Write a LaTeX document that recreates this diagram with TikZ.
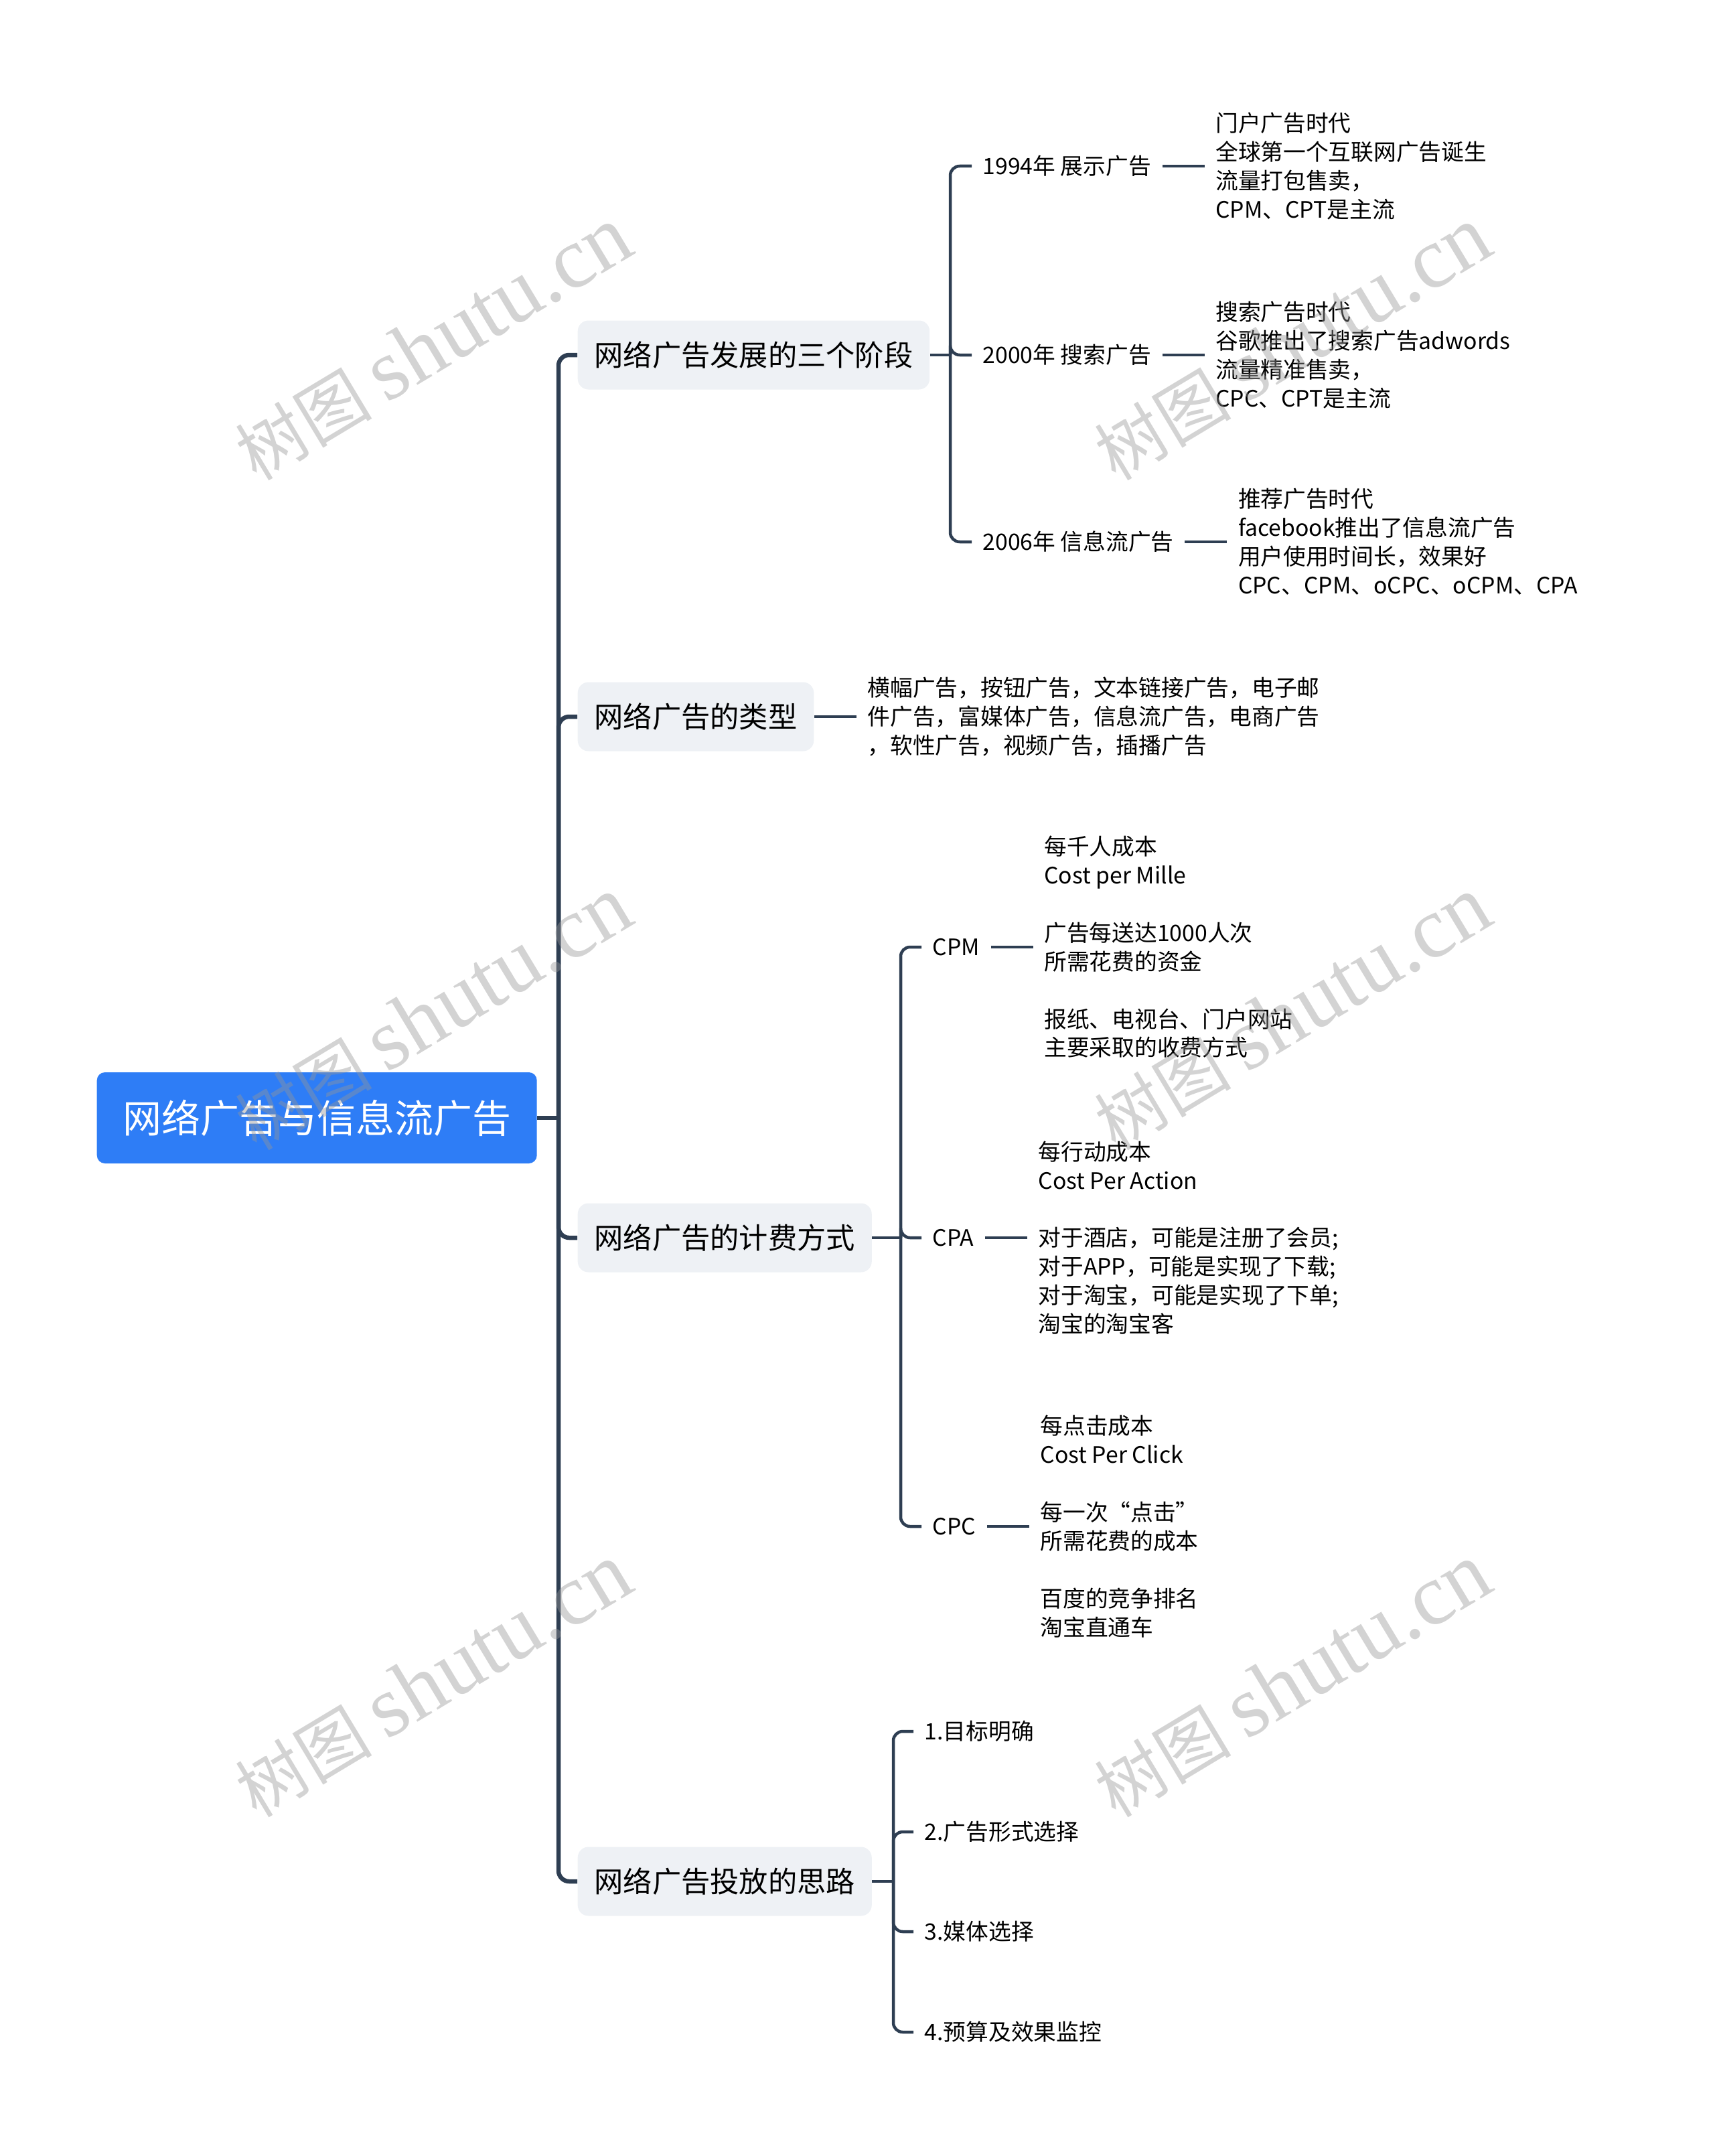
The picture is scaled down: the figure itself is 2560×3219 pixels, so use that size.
\documentclass[tikz,border=0pt]{standalone}
\usepackage{fontspec}
\setmainfont{Noto Sans CJK SC}
\newfontfamily\wmfont{Liberation Serif}
\usetikzlibrary{positioning}
\definecolor{rootblue}{RGB}{46,125,246}
\definecolor{topicgray}{RGB}{238,241,245}
\definecolor{linkcol}{RGB}{46,62,82}
\definecolor{wmgray}{RGB}{150,150,150}
\begin{document}
\begin{tikzpicture}[x=0.1mm,y=-0.1mm,
    rootbox/.style={fill=rootblue,text=white,rounded corners=1.2mm,minimum width=65.7mm,
      minimum height=13.6mm,inner sep=0pt,anchor=west,font=\fontsize{16.5pt}{20pt}\selectfont},
    topic/.style={fill=topicgray,rounded corners=1.6mm,minimum height=10.3mm,inner xsep=2.5mm,
      anchor=west,font=\fontsize{12.3pt}{15pt}\selectfont},
    sub/.style={inner xsep=1.6mm,inner ysep=1mm,anchor=west,font=\fontsize{9.6pt}{12.2pt}\selectfont},
    leaf/.style={inner xsep=1.6mm,align=left,font=\fontsize{9.6pt}{12.2pt}\selectfont},
    trunk/.style={draw=linkcol,line width=0.65mm,rounded corners=1.6mm},
    branch/.style={draw=linkcol,line width=0.45mm,rounded corners=1.4mm},
    wmark/.style={text=wmgray,opacity=0.42,rotate=31,font=\fontsize{29pt}{34pt}\selectfont},
    node distance=6.3mm]
    \useasboundingbox (0,0) rectangle (2560,3219);

    \node[rootbox] (root) at (144,1669) {网络广告与信息流广告};
    \coordinate (rootj) at (834,1669);

    \node[topic] (stage) at (862,530) {网络广告发展的三个阶段};
    \node[topic] (types) at (862,1070) {网络广告的类型};
    \node[topic] (fee) at (862,1848) {网络广告的计费方式};
    \node[topic] (plan) at (862,2809) {网络广告投放的思路};

    \draw[trunk] (root.east) -- (rootj);
    \foreach \t in {stage,types,fee,plan}
        \draw[trunk] (rootj) |- (\t.west);

    \coordinate (stagej) at (1419,530);
    \node[sub] (y1994) at (1451,248) {1994年 展示广告};
    \node[sub] (y2000) at (1451,530) {2000年 搜索广告};
    \node[sub] (y2006) at (1451,809) {2006年 信息流广告};
    \node[leaf,right=of y1994] (l1994) {门户广告时代\\全球第一个互联网广告诞生\\流量打包售卖，\\CPM、CPT是主流};
    \node[leaf,right=of y2000] (l2000) {搜索广告时代\\谷歌推出了搜索广告adwords\\流量精准售卖，\\CPC、CPT是主流};
    \node[leaf,right=of y2006] (l2006) {推荐广告时代\\facebook推出了信息流广告\\用户使用时间长，效果好\\CPC、CPM、oCPC、oCPM、CPA};
    \draw[branch] (stage.east) -- (stagej);
    \foreach \s in {y1994,y2000,y2006}
        \draw[branch] (stagej) |- (\s.west);
    \draw[branch] (y1994.east) -- (l1994.west);
    \draw[branch] (y2000.east) -- (l2000.west);
    \draw[branch] (y2006.east) -- (l2006.west);

    \node[leaf,right=of types] (ltypes) {横幅广告，按钮广告，文本链接广告，电子邮\\件广告，富媒体广告，信息流广告，电商广告\\，软性广告，视频广告，插播广告};
    \draw[branch] (types.east) -- (ltypes.west);

    \coordinate (feej) at (1345,1848);
    \node[sub] (cpm) at (1376,1414) {CPM};
    \node[sub] (cpa) at (1376,1848) {CPA};
    \node[sub] (cpc) at (1376,2279) {CPC};
    \node[leaf,right=of cpm] (lcpm) {每千人成本\\Cost per Mille\\[12.2pt]广告每送达1000人次\\所需花费的资金\\[12.2pt]报纸、电视台、门户网站\\主要采取的收费方式};
    \node[leaf,right=of cpa] (lcpa) {每行动成本\\Cost Per Action\\[12.2pt]对于酒店，可能是注册了会员;\\对于APP，可能是实现了下载;\\对于淘宝，可能是实现了下单;\\淘宝的淘宝客};
    \node[leaf,right=of cpc] (lcpc) {每点击成本\\Cost Per Click\\[12.2pt]每一次“点击”\\所需花费的成本\\[12.2pt]百度的竞争排名\\淘宝直通车};
    \draw[branch] (fee.east) -- (feej);
    \foreach \s in {cpm,cpa,cpc}
        \draw[branch] (feej) |- (\s.west);
    \draw[branch] (cpm.east) -- (lcpm.west);
    \draw[branch] (cpa.east) -- (lcpa.west);
    \draw[branch] (cpc.east) -- (lcpc.west);

    \coordinate (planj) at (1334,2809);
    \node[sub] (p1) at (1364,2585) {1.目标明确};
    \node[sub] (p2) at (1364,2735) {2.广告形式选择};
    \node[sub] (p3) at (1364,2884) {3.媒体选择};
    \node[sub] (p4) at (1364,3034) {4.预算及效果监控};
    \draw[branch] (plan.east) -- (planj);
    \foreach \s in {p1,p2,p3,p4}
        \draw[branch] (planj) |- (\s.west);

    \foreach \wx/\wy [count=\i] in {647/513,1930/513,647/1513,1930/1513,647/2509,1930/2509}
        \node[wmark] (wm\i) at (\wx,\wy) {树图 {\wmfont\fontsize{37pt}{40pt}\selectfont shutu.cn}};
\end{tikzpicture}
\end{document}
